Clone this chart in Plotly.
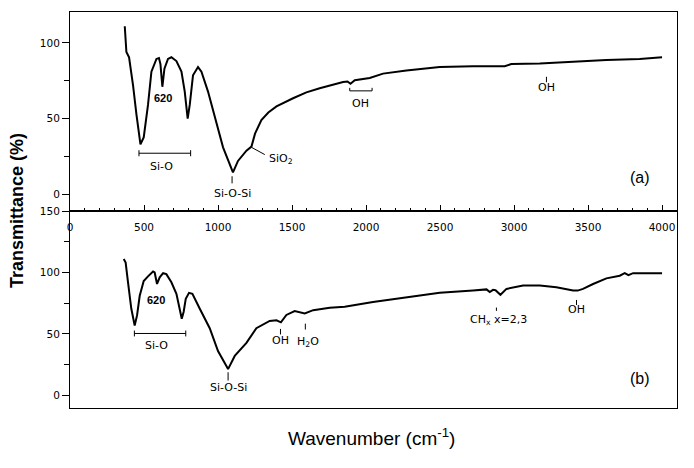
import plotly.graph_objects as go

# ---- data ----
wn_a = [370, 381, 399, 426, 449, 476, 498, 527, 550, 584, 601, 611, 624, 638, 662, 685, 719, 753, 775, 795,
        809, 831, 865, 888, 932, 989, 1034, 1101, 1135, 1192, 1226, 1250, 1293, 1340, 1395, 1507, 1597, 1687,
        1777, 1845, 1875, 1895, 1924, 2025, 2115, 2273, 2498, 2723, 2937, 2982, 3174, 3215, 3230, 3399, 3624,
        3849, 4000]
t_a = [111, 94, 90.5, 72, 52.6, 33, 37.5, 59, 81, 89.4, 90, 86, 71, 83, 89.4, 90.5, 88, 81, 68, 50,
       59, 78.6, 84, 81, 68, 48, 31, 14.5, 22, 28.8, 31.5, 40, 49, 54, 58, 63.4, 67.3, 70,
       72.5, 74.2, 74.5, 73, 75.3, 76.8, 79.7, 81.8, 84, 84.6, 84.6, 86, 86.4, 86.6, 86.4, 87.7, 88.7,
       89.4, 90.5]

wn_b = [363, 376, 392, 414, 437, 453, 471, 498, 527, 561, 572, 588, 606, 629, 651, 685, 719, 737, 755, 768,
        782, 804, 827, 876, 944, 1000, 1068, 1113, 1192, 1259, 1349, 1395, 1425, 1462, 1518, 1586, 1643, 1755,
        1856, 2047, 2273, 2498, 2723, 2814, 2836, 2858, 2875, 2908, 2949, 3061, 3174, 3286, 3399, 3430, 3466,
        3534, 3624, 3714, 3748, 3773, 3804, 4000]
t_b = [111, 108, 92, 70.6, 56.8, 65, 81, 93, 96.8, 100.8, 100, 90.6, 96, 99.4, 98.6, 92, 82.6, 73, 62.3, 68,
       78.6, 83.4, 82.6, 70.6, 54.6, 36, 21.3, 32, 42.6, 54.6, 60.5, 61, 59.4, 65.4, 68.5, 66.6, 69.3, 71.2,
       72, 76, 80, 83.4, 85.3, 86.2, 84, 85.8, 85.5, 81.8, 86.6, 89.3, 89.3, 88, 85.3, 85.2, 86.6,
       90.6, 95.2, 97.3, 99.4, 97.8, 99.4, 99.4]

x_ticks = [0, 500, 1000, 1500, 2000, 2500, 3000, 3500, 4000]
y_ticks_a = [0, 50, 100]
y_ticks_b = [0, 50, 100, 150]

FONT = "Liberation Sans, Arial, sans-serif"
LFONT = "DejaVu Sans, Arial, sans-serif"

fig = go.Figure()
fig.add_trace(go.Scatter(x=wn_a, y=t_a, mode="lines", line=dict(color="black", width=2),
                         xaxis="x", yaxis="y", showlegend=False))
fig.add_trace(go.Scatter(x=wn_b, y=t_b, mode="lines", line=dict(color="black", width=2),
                         xaxis="x2", yaxis="y2", showlegend=False))

split = 0.4975
common_x = dict(range=[0, 4101], showgrid=False, zeroline=False, showline=True, linecolor="black",
                linewidth=1, mirror=True)
common_y = dict(showgrid=False, zeroline=False, showline=True, linecolor="black", linewidth=1,
                mirror=True, ticks="outside", ticklen=7, tickcolor="black",
                minor=dict(dtick=25, tick0=0, ticks="outside", ticklen=5, tickcolor="black"),
                tickfont=dict(family=LFONT, size=10.5, color="black"))

fig.update_layout(
    width=694, height=468,
    margin=dict(l=70, r=17, t=6, b=60),
    paper_bgcolor="white", plot_bgcolor="white",
    xaxis=dict(**common_x, domain=[0, 1], anchor="y", ticks="inside", ticklen=6, tickcolor="black",
               tickvals=x_ticks, ticklabelstandoff=6,
               minor=dict(dtick=100, tick0=0, ticks="inside", ticklen=3, tickcolor="black"),
               tickfont=dict(family=LFONT, size=10.5, color="black")),
    yaxis=dict(**common_y, domain=[split, 1], anchor="x", range=[-11.06, 120.4], tickvals=y_ticks_a),
    xaxis2=dict(**common_x, domain=[0, 1], anchor="y2", showticklabels=False, ticks=""),
    yaxis2=dict(**common_y, domain=[0, split], anchor="x2", range=[-10.4, 150.05], tickvals=y_ticks_b),
)

# axis titles
fig.add_annotation(text="<b>Transmittance (%)</b>", xref="paper", yref="paper", x=-0.0873, y=split,
                   textangle=-90, showarrow=False, font=dict(family=FONT, size=18, color="black"),
                   xanchor="center", yanchor="middle")
fig.add_annotation(text="Wavenumber (cm<sup>-1</sup>)", xref="paper", yref="paper", x=0.4975, y=-0.072,
                   showarrow=False, font=dict(family=FONT, size=19, color="black"),
                   xanchor="center", yanchor="middle")


def line(xr, yr, x0, y0, x1, y1):
    fig.add_shape(type="line", xref=xr, yref=yr, x0=x0, y0=y0, x1=x1, y1=y1,
                  line=dict(color="black", width=1))


def label(xr, yr, x, y, text, size=11, bold=False, xanchor="center", family=LFONT):
    if bold:
        text = "<b>" + text + "</b>"
    fig.add_annotation(text=text, xref=xr, yref=yr, x=x, y=y, showarrow=False,
                       font=dict(family=family, size=size, color="black"),
                       xanchor=xanchor, yanchor="middle")


# ---- panel (a) annotations ----
label("x", "y", 626, 63.8, "620", size=11, bold=True, family=FONT)
line("x", "y", 466, 27.1, 815, 27.1)
line("x", "y", 466, 25.1, 466, 29.1)
line("x", "y", 815, 25.1, 815, 29.1)
label("x", "y", 620, 18.2, "Si-O")
line("x", "y", 1095, 11.9, 1095, 7.2)
label("x", "y", 1095, 0.3, "Si-O-Si")
line("x", "y", 1226, 31, 1316, 26.2)
label("x", "y", 1330, 23.4, "SiO<sub>2</sub>", xanchor="left")
line("x", "y", 1890, 68.3, 2041, 68.3)
line("x", "y", 1890, 68.3, 1890, 70.3)
line("x", "y", 2041, 68.3, 2041, 70.3)
label("x", "y", 1964, 59.9, "OH")
line("x", "y", 3219, 77.6, 3219, 74)
label("x", "y", 3219, 70.3, "OH")
label("x", "y", 3849, 11, "(a)", size=16, family=FONT)

# ---- panel (b) annotations ----
label("x2", "y2", 579, 77.6, "620", size=11, bold=True, family=FONT)
line("x2", "y2", 435, 50.3, 782, 50.3)
line("x2", "y2", 435, 47.9, 435, 52.7)
line("x2", "y2", 782, 47.9, 782, 52.7)
label("x2", "y2", 586, 40.1, "Si-O")
line("x2", "y2", 1068, 18.7, 1068, 12)
label("x2", "y2", 1068, 6.2, "Si-O-Si")
line("x2", "y2", 1422, 54, 1422, 49.5)
label("x2", "y2", 1420, 44.7, "OH")
line("x2", "y2", 1590, 58.3, 1590, 53.5)
label("x2", "y2", 1610, 43.5, "H<sub>2</sub>O")
line("x2", "y2", 2881, 71.4, 2881, 68.7)
label("x2", "y2", 2897, 61, "CH<sub>x</sub> x=2,3")
line("x2", "y2", 3422, 77.6, 3422, 73.5)
label("x2", "y2", 3422, 69.5, "OH")
label("x2", "y2", 3849, 13.4, "(b)", size=16, family=FONT)

fig.write_html("out.html", config={"displayModeBar": False},
               post_script="document.body.style.margin='0';")
